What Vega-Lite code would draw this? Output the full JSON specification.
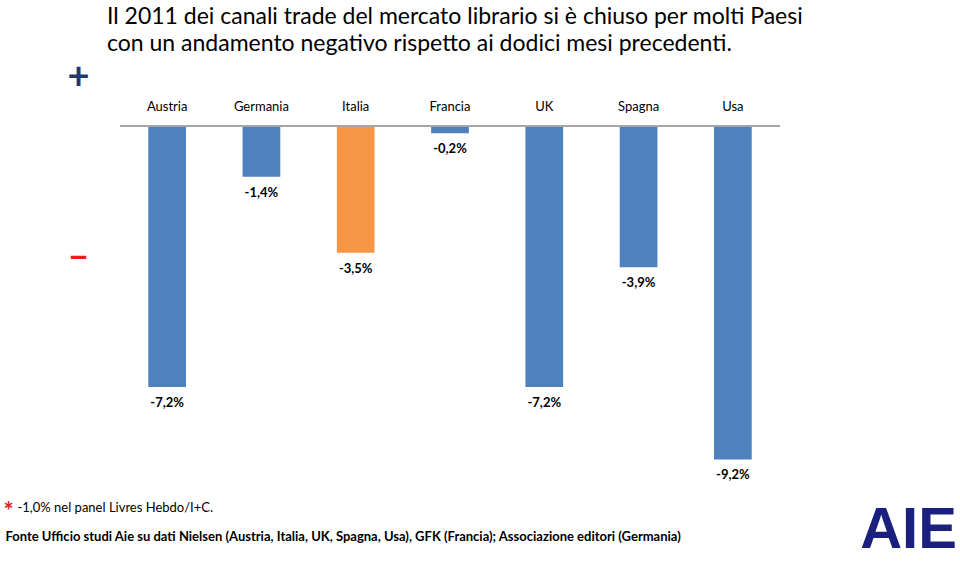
{
  "$schema": "https://vega.github.io/schema/vega-lite/v6.json",
  "width": 660,
  "height": 489.4,
  "autosize": {"type": "none"},
  "padding": {"left": 120, "top": 71.6, "right": 180, "bottom": 9},
  "background": "white",
  "config": {"view": {"stroke": null}, "font": "Lato"},
  "title": {
    "text": ["Il 2011 dei canali trade del mercato librario si è chiuso per molti Paesi", "con un andamento negativo rispetto ai dodici mesi precedenti."],
    "anchor": "start",
    "frame": "group",
    "font": "Lato",
    "fontSize": 23,
    "fontWeight": "normal",
    "lineHeight": 27,
    "color": "#000000",
    "dx": -13,
    "offset": 2
  },
  "data": {
    "values": [
      {"paese": "Austria", "valore": -7.2, "etichetta": "-7,2%"},
      {"paese": "Germania", "valore": -1.4, "etichetta": "-1,4%"},
      {"paese": "Italia", "valore": -3.5, "etichetta": "-3,5%"},
      {"paese": "Francia", "valore": -0.2, "etichetta": "-0,2%"},
      {"paese": "UK", "valore": -7.2, "etichetta": "-7,2%"},
      {"paese": "Spagna", "valore": -3.9, "etichetta": "-3,9%"},
      {"paese": "Usa", "valore": -9.2, "etichetta": "-9,2%"}
    ]
  },
  "layer": [
    {
      "mark": {"type": "bar"},
      "encoding": {
        "x": {
          "field": "paese", "type": "nominal", "sort": null,
          "scale": {"paddingInner": 0.6, "paddingOuter": 0.3},
          "axis": {
            "orient": "bottom", "labels": false, "ticks": false, "domain": false, "grid": false,
            "title": "Fonte Ufficio studi Aie su dati Nielsen (Austria, Italia, UK, Spagna, Usa), GFK (Francia); Associazione editori (Germania)",
            "titleFont": "Lato", "titleFontSize": 13, "titleFontWeight": "bold", "titleColor": "#000000",
            "titleAnchor": "start", "titleAlign": "left", "titleBaseline": "middle",
            "titleX": -115, "titleY": -25
          }
        },
        "y": {
          "field": "valore", "type": "quantitative",
          "scale": {"domain": [-12, 1.5], "nice": false, "zero": false},
          "axis": {
            "orient": "left", "values": [1.35, -3.64, -10.65], "grid": false, "ticks": false, "domain": false, "tickSize": 0,
            "labelExpr": "datum.value > 0 ? '+' : (datum.value > -8 ? '–' : '*')",
            "labelFont": "Lato", "labelFontWeight": "bold",
            "labelFontSize": {"condition": {"test": "datum.value < -8", "value": 24}, "value": 38},
            "labelColor": {"condition": {"test": "datum.value > 0", "value": "#1F3A6E"}, "value": "#E3201B"},
            "labelAlign": "center", "labelBaseline": "middle",
            "labelPadding": {"condition": {"test": "datum.value < -8", "value": 112}, "value": 42},
            "labelFlush": false, "labelOverlap": false,
            "title": "-1,0% nel panel Livres Hebdo/I+C.",
            "titleFont": "Lato", "titleFontSize": 13, "titleFontWeight": "normal", "titleColor": "#000000",
            "titleAngle": 0, "titleAlign": "left", "titleBaseline": "middle",
            "titleX": -103, "titleY": 435.4
          }
        },
        "color": {
          "condition": {"test": "datum.paese === 'Italia'", "value": "#F79646"},
          "value": "#4F81BD"
        }
      }
    },
    {
      "mark": {"type": "rule", "color": "#A6A6A6", "strokeWidth": 1},
      "encoding": {"y": {"datum": 0, "type": "quantitative", "axis": null}}
    },
    {
      "mark": {"type": "text", "font": "Lato", "fontSize": 13, "color": "#000000", "baseline": "middle"},
      "encoding": {
        "x": {"field": "paese", "type": "nominal", "sort": null, "axis": null},
        "y": {"datum": 0.52, "type": "quantitative", "axis": null},
        "text": {"field": "paese"}
      }
    },
    {
      "mark": {"type": "text", "font": "Lato", "fontSize": 13, "fontWeight": "bold", "color": "#000000", "baseline": "middle", "dy": 16},
      "encoding": {
        "x": {"field": "paese", "type": "nominal", "sort": null, "axis": null},
        "y": {
          "field": "valore", "type": "quantitative",
          "axis": {
            "orient": "right", "labels": false, "ticks": false, "domain": false, "grid": false,
            "title": "AIE",
            "titleFont": "Liberation Sans", "titleFontSize": 58, "titleFontWeight": "bold", "titleColor": "#1B1F7E",
            "titleAngle": 0, "titleAlign": "center", "titleBaseline": "alphabetic",
            "titleX": 128, "titleY": 476
          }
        },
        "text": {"field": "etichetta"}
      }
    }
  ],
  "resolve": {"axis": {"y": "independent", "x": "independent"}}
}
